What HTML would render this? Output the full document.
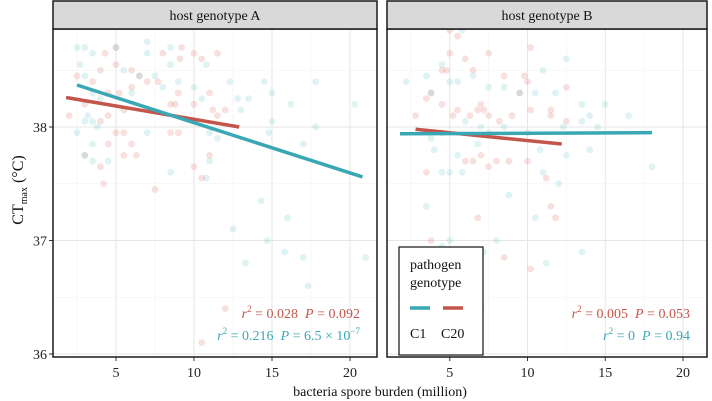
<!DOCTYPE html>
<html><head><meta charset="utf-8"><style>
body{margin:0;background:#fff}
svg{display:block;font-family:"Liberation Serif",serif}
</style></head><body>
<svg id="chart" width="712" height="401"></svg>
<script>
const xTicks=[5,10,15,20];
const yTicks=[36,37,38];
const panelNames=["host genotype A","host genotype B"];
const redA=[[2,38.1],[2.5,38.45],[3,38.2],[3.5,38.4],[4,38.5],[4.3,38.65],[4.5,38.3],[5,38.7],[5,38.55],[5.2,38.3],[5.5,38.15],[6,38.5],[6.5,38.45],[4,38.05],[4.5,38.1],[5,37.95],[5.5,37.95],[6,37.85],[4,37.65],[4.2,37.5],[4.5,37.85],[5.5,37.75],[6.3,37.75],[7,38.4],[7.7,38.4],[8,38.65],[8.5,38.2],[9,38.3],[9.2,38.7],[9.1,38.6],[10,38.65],[10.5,38.6],[11,38.3],[11.5,38.65],[11.2,38.15],[11.5,38.1],[9,37.95],[10,37.65],[10.5,37.55],[11,37.75],[12,36.4],[10.5,36.1],[7.5,37.45],[8.5,37.95],[3,37.75],[6,38.35],[8.8,38.2],[10,38.2],[12,38.15]];
const blueA=[[2.5,38.7],[3,38.7],[3.5,38.65],[2.7,38.55],[3,38.45],[3.5,38.3],[4,38.25],[3.2,38.1],[3.5,38.05],[3.8,38.0],[3,38.05],[2.5,37.95],[3.5,37.85],[3.5,37.7],[3,37.75],[4.5,37.7],[5,38.7],[5.5,38.5],[6,38.3],[6.5,38.45],[7,38.65],[7,38.75],[7.5,38.45],[8,38.35],[8.5,38.55],[9,38.4],[8.5,38.7],[10,38.35],[10.5,38.25],[10.8,38.55],[12.3,38.4],[12.8,38.25],[13,38.15],[13.5,38.25],[11,37.95],[11.5,37.9],[7,37.95],[8.5,37.6],[10.8,37.55],[11,37.7],[14.5,38.4],[15,38.3],[15,38.05],[14.8,37.95],[16.2,38.2],[17.8,38.4],[17.8,38.0],[20.3,38.2],[17,37.85],[14.3,37.35],[12.5,37.1],[14.7,37.0],[15.8,36.9],[17,36.85],[13.3,36.8],[17.3,36.6],[21,36.85],[16,37.2]];
const redB=[[3.5,38.25],[3.8,38.3],[4.5,38.5],[4.8,38.5],[5,38.65],[5,38.85],[5.5,38.8],[6,38.6],[6.5,38.5],[7.5,38.65],[4.5,38.2],[5.2,38.1],[5.5,38.15],[6.3,38.1],[6.8,38.15],[7,38.2],[7.5,38.1],[8.2,38.05],[9,38.1],[9.5,38.3],[10,38.4],[10.2,38.15],[10.2,38.7],[11.5,38.15],[11.5,38.1],[12.5,38.35],[12.5,38.05],[2.8,38.1],[3.5,37.6],[4.5,37.95],[6,37.7],[6.5,37.7],[7,37.75],[7.5,37.65],[8,37.7],[8.8,37.7],[10,37.7],[11.2,37.55],[11.5,37.3],[11.8,37.2],[6.8,37.2],[3.8,37.0],[8.5,36.85],[10.2,36.75],[7.2,38.15],[8.5,38.45],[9.8,38.45]];
const blueB=[[2.2,38.4],[3.5,38.45],[3.8,38.3],[4.5,38.55],[5,38.4],[5.5,38.4],[5.8,38.85],[6.5,38.45],[7.5,38.35],[8.5,38.35],[9.5,38.3],[10.5,38.3],[11,38.5],[12.5,38.6],[11.8,38.3],[13.5,38.2],[15,38.2],[16.5,38.1],[14,38.1],[14.5,38.0],[13.5,38.05],[12.3,38.0],[6,38.05],[7,38.0],[7.5,37.95],[8.5,38.0],[10,37.95],[4,37.8],[3.8,37.9],[4.5,37.6],[5,37.6],[5.5,37.75],[5.8,37.6],[6.8,37.85],[10.8,37.8],[12.5,37.75],[14,37.8],[11,37.6],[12,37.5],[3.5,37.3],[8.8,37.4],[10.5,37.2],[18,37.65],[8,37.0],[4.5,36.95],[5,37.0],[11.2,36.8],[13.5,36.9],[7.2,36.9],[7,36.4]];
const fitRedA=[[1.8,38.26],[12.9,38.0]];
const fitBlueA=[[2.5,38.37],[20.8,37.56]];
const fitRedB=[[2.8,37.98],[12.2,37.85]];
const fitBlueB=[[1.8,37.94],[18,37.95]];
const statsA=["0.028","0.092","0.216","6.5"];
const statsB=["0.005","0.053","0","0.94"];

const RED="#c4554a",BLUE="#3aa8b4";
const svg=document.getElementById('chart');
const NS="http://www.w3.org/2000/svg";
const SP="\u00a0";
function mk(t,a,p){const e=document.createElementNS(NS,t);for(const k in a)e.setAttribute(k,a[k]);(p||svg).appendChild(e);return e;}
const yS=v=>127-(v-38)*113.5;
const panels=[{x0:53,x1:377,xs:v=>38+v*15.6,red:redA,blue:blueA,fr:fitRedA,fb:fitBlueA,st:statsA,name:"panel-a"},
{x0:387,x1:707,xs:v=>372+v*15.55,red:redB,blue:blueB,fr:fitRedB,fb:fitBlueB,st:statsB,name:"panel-b"}];
panels.forEach((P,i)=>{
 const g=mk('g',{});
 
 
 mk('rect',{x:P.x0,y:29,width:P.x1-P.x0,height:328,fill:'#fff'},g);
 for(let v=2.5;v<=22.5;v+=5){const x=P.xs(v);if(x>P.x0&&x<P.x1)mk('line',{x1:x,x2:x,y1:29,y2:357,stroke:'#f2f2f2','stroke-width':0.6},g);}
 [36.5,37.5,38.5].forEach(v=>mk('line',{x1:P.x0,x2:P.x1,y1:yS(v),y2:yS(v),stroke:'#f2f2f2','stroke-width':0.6},g));
 xTicks.forEach(v=>{const x=P.xs(v);mk('line',{x1:x,x2:x,y1:29,y2:357,stroke:'#e6e6e6','stroke-width':1},g);
  mk('line',{x1:x,x2:x,y1:357,y2:361,stroke:'#333'},g);
  const t=mk('text',{x:x,y:377,'text-anchor':'middle','font-size':14,fill:'#222'},g);t.textContent=v;
  });
 yTicks.forEach(v=>{mk('line',{x1:P.x0,x2:P.x1,y1:yS(v),y2:yS(v),stroke:'#e6e6e6','stroke-width':1},g);
  if(i==0){mk('line',{x1:P.x0-4,x2:P.x0,y1:yS(v),y2:yS(v),stroke:'#333'},g);
  const t=mk('text',{x:P.x0-6,y:yS(v)+5,'text-anchor':'end','font-size':14,fill:'#222'},g);t.textContent=v;
  }});
 [[P.red,'#d9746b'],[P.blue,'#6cc5cd']].forEach(([arr,c])=>arr.forEach(d=>{
  const p=mk('circle',{cx:P.xs(d[0]),cy:yS(d[1]),r:3.4,fill:c,'fill-opacity':0.22},g);
  }));
 [[P.fr,RED,'fit-line-c20'],[P.fb,BLUE,'fit-line-c1']].forEach(([f,c,n])=>{
  const l=mk('line',{x1:P.xs(f[0][0]),y1:yS(f[0][1]),x2:P.xs(f[1][0]),y2:yS(f[1][1]),stroke:c,'stroke-width':3.5},g);
  });
 const ax=P.x1-17;
 const t1=mk('text',{x:ax,y:318,'text-anchor':'end','font-size':14,fill:RED},g);
 t1.innerHTML='<tspan font-style="italic">r</tspan><tspan font-size="9" dy="-6">2</tspan><tspan dy="6">'+SP+'='+SP+P.st[0]+SP+SP+'</tspan><tspan font-style="italic">P</tspan>'+SP+'='+SP+P.st[1];
 
 const t2=mk('text',{x:ax,y:340,'text-anchor':'end','font-size':14,fill:BLUE},g);
 t2.innerHTML='<tspan font-style="italic">r</tspan><tspan font-size="9" dy="-6">2</tspan><tspan dy="6">'+SP+'='+SP+P.st[2]+SP+SP+'</tspan><tspan font-style="italic">P</tspan>'+SP+'='+SP+P.st[3]+(i==0?SP+'×'+SP+'10<tspan font-size="9" dy="-6">−7</tspan>':'');
 
 mk('rect',{x:P.x0,y:29,width:P.x1-P.x0,height:328,fill:'none',stroke:'#1a1a1a','stroke-width':1.5},g);
 const s=mk('rect',{x:P.x0,y:1,width:P.x1-P.x0,height:28,fill:'#d9d9d9',stroke:'#1a1a1a','stroke-width':1.5},g);
 
 const st=mk('text',{x:(P.x0+P.x1)/2,y:20,'text-anchor':'middle','font-size':14,fill:'#111'},g);st.textContent=panelNames[i];
 
});
</script>
<svg width="712" height="401" style="position:absolute;left:0;top:0">
<text x="23" y="190" transform="rotate(-90 23 190)" text-anchor="middle" font-size="16" fill="#111">CT<tspan font-size="10" dy="4">max</tspan><tspan dy="-4"> (°C)</tspan></text>
<text x="380" y="396" text-anchor="middle" font-size="14" fill="#111">bacteria spore burden (million)</text>
<g>
<rect x="399" y="247" width="84" height="108" fill="#fff" stroke="#111" stroke-width="1.2"/>
<text x="410" y="269" font-size="14" fill="#111">pathogen</text>
<text x="410" y="287" font-size="14" fill="#111">genotype</text>
<line x1="410" x2="430" y1="308" y2="308" stroke="#3aa8b4" stroke-width="3.5"/>
<line x1="443" x2="463" y1="308" y2="308" stroke="#c4554a" stroke-width="3.5"/>
<text x="410" y="338" font-size="14" fill="#111">C1</text>
<text x="441" y="338" font-size="14" fill="#111">C20</text>
</g>
</svg>
</body></html>
